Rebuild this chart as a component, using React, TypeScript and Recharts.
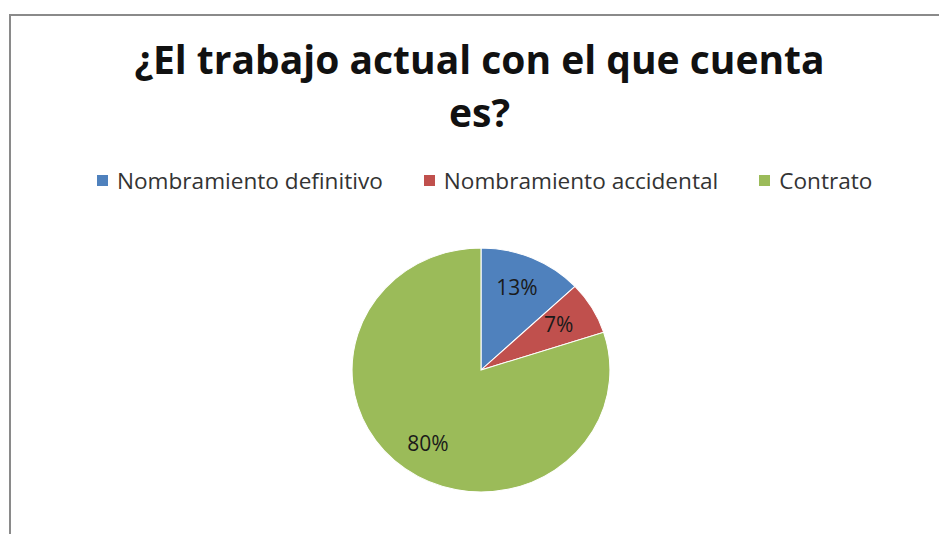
import React from 'react';
import { PieChart, Pie, Cell, Legend } from 'recharts';

const categories = ['Nombramiento definitivo', 'Nombramiento accidental', 'Contrato'];
const values = [13, 7, 80];
const percentLabels = ['13%', '7%', '80%'];
const colors = ['#4F81BD', '#C0504D', '#9BBB59'];
const titleLines = ['¿El trabajo actual con el que cuenta', 'es?'];

const data = categories.map((name, i) => ({ name, value: values[i], label: percentLabels[i] }));

const RAD = Math.PI / 180;

const renderLabel = (props: any) => {
  const { cx, cy, midAngle, outerRadius, index } = props;
  const r = outerRadius * 0.74;
  const x = cx + r * Math.cos(-midAngle * RAD);
  const y = cy + r * Math.sin(-midAngle * RAD);
  return (
    <text
      x={x}
      y={y}
      textAnchor="middle"
      dominantBaseline="central"
      fill="#1a1a1a"
      fontFamily="'Open Sans', sans-serif"
      fontSize={21}
    >
      {percentLabels[index]}
    </text>
  );
};

const renderLegend = () => {
  return (
    <div style={{ display: 'flex', justifyContent: 'flex-start', alignItems: 'center', paddingLeft: 97, fontFamily: "'Open Sans', sans-serif", fontSize: 22.6, color: '#333', whiteSpace: 'nowrap' }}>
      {categories.map((name, i) => (
        <div key={name} style={{ display: 'flex', alignItems: 'center', marginRight: i < 2 ? 41 : 0 }}>
          <span style={{ display: 'inline-block', width: 11, height: 11, background: colors[i], marginRight: 9 }} />
          <span>{name}</span>
        </div>
      ))}
    </div>
  );
};

export default function App() {
  return (
    <div style={{ position: 'fixed', left: 0, top: 0, width: 939, height: 534, background: '#fff', overflow: 'hidden' }}>
      <style>{`#chartwrap .recharts-pie { transform: scaleX(1.057); transform-origin: 481px 370px; }`}</style>
      <div style={{ position: 'absolute', left: 9, top: 14, width: 940, height: 530, borderLeft: '2px solid #8a8a8a', borderTop: '2px solid #8a8a8a' }} />
      <div style={{ position: 'absolute', left: 0, top: 32, width: 959, textAlign: 'center', fontFamily: "'Open Sans', sans-serif", fontWeight: 700, fontSize: 39, lineHeight: '53px', color: '#111', whiteSpace: 'nowrap' }}>
        {titleLines.map((l, i) => (
          <div key={i}>{l}</div>
        ))}
      </div>
      <div id="chartwrap" style={{ position: 'absolute', left: 0, top: 0 }}>
        <PieChart width={939} height={534} margin={{ top: 0, right: 0, bottom: 0, left: 0 }}>
          <Legend
            verticalAlign="bottom"
            content={renderLegend}
            wrapperStyle={{ top: 165, left: 0, width: 939, bottom: 'auto' }}
          />
          <Pie
            data={data}
            dataKey="value"
            nameKey="name"
            cx={481}
            cy={370}
            outerRadius={122}
            startAngle={90}
            endAngle={-270}
            stroke="#ffffff"
            strokeWidth={1}
            label={renderLabel}
            labelLine={false}
            isAnimationActive={false}
          >
            {data.map((d, i) => (
              <Cell key={d.name} fill={colors[i]} />
            ))}
          </Pie>
        </PieChart>
      </div>
    </div>
  );
}
